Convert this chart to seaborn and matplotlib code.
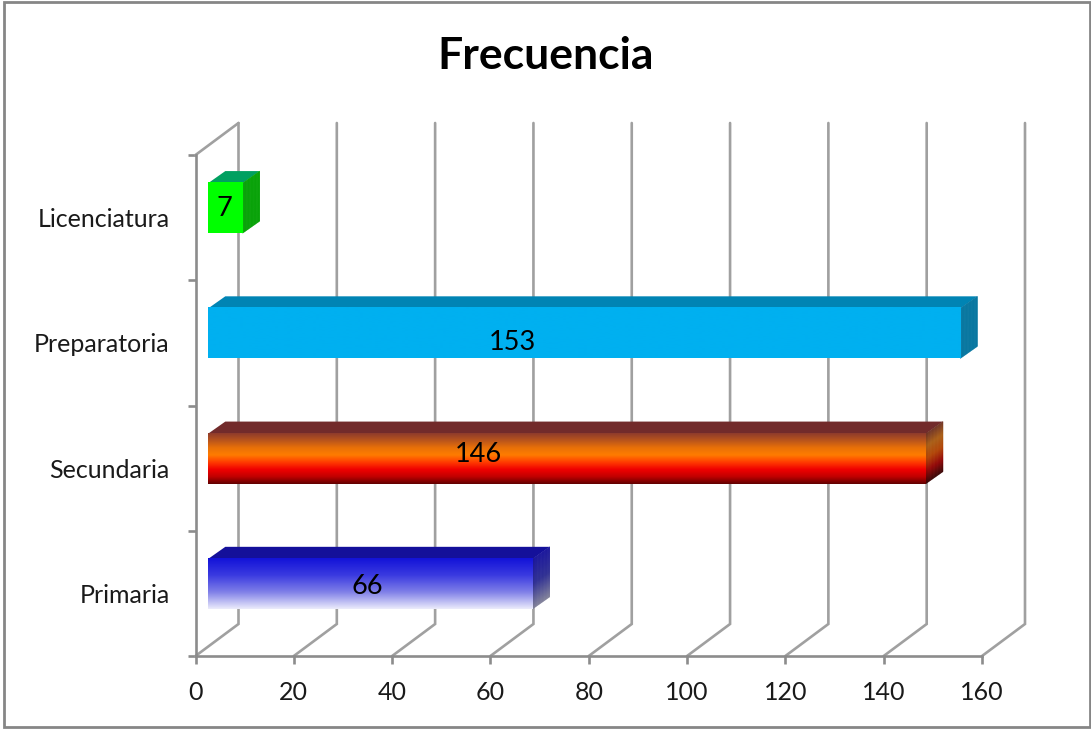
import numpy as np
import pandas as pd
import matplotlib
matplotlib.use("Agg")
import matplotlib.pyplot as plt
from matplotlib.colors import LinearSegmentedColormap
from matplotlib.collections import PolyCollection
from matplotlib.patches import Polygon, Rectangle
import seaborn as sns

# --- data ---
niveles = ["Licenciatura", "Preparatoria", "Secundaria", "Primaria"]
frecuencia = [7, 153, 146, 66]
x_ticks = [0, 20, 40, 60, 80, 100, 120, 140, 160]
titulo = "Frecuencia"

# --- colours ---
front_stops = [
    ["#00ff00", "#00ff00"],
    ["#00b0f0", "#00b0f0"],
    ["#8e3b2c", "#b8541c", "#e87008", "#ff7c00", "#ff3c00", "#f00000", "#c00000", "#600000"],
    ["#1212d8", "#3a3ae0", "#8080e8", "#ececfb"],
]
side_stops = [
    ["#00a000", "#00a000"],
    ["#00739e", "#00739e"],
    ["#6e3020", "#a85a10", "#b04000", "#900000", "#300000"],
    ["#14109a", "#2a2a90", "#808098"],
]
top_colors = ["#00a060", "#0084b4", "#722b2b", "#14109a"]
wall_color = "#a0a0a0"
axis_color = "#8c8c8c"
frame_color = "#868686"

# --- layout (pixels) ---
W, H = 1091, 730
AX_L, AX_R, AX_T, AX_B = 195.5, 982.0, 155.0, 656.0
WALL_DX, WALL_DY = 43.0, 32.0
BAR_DX, BAR_DY = 17.0, 12.0
BAR_SHIFT_X, BAR_SHIFT_Y = 12.8, -9.5
label_px = [(224, 208), (512, 342), (478, 454), (367, 587)]

sns.set_theme(style="white")
plt.rcParams["font.family"] = ["Lato", "DejaVu Sans"]

fig = plt.figure(figsize=(W / 100, H / 100), dpi=100, facecolor="white")
ax = fig.add_axes([AX_L / W, 1 - AX_B / H, (AX_R - AX_L) / W, (AX_B - AX_T) / H])

df = pd.DataFrame({"nivel": niveles, "frecuencia": frecuencia})
solid = {n: s[0] for n, s in zip(niveles, front_stops)}
sns.barplot(data=df, y="nivel", x="frecuencia", hue="nivel", hue_order=niveles,
            order=niveles, palette=solid, width=0.4, legend=False, orient="h",
            ax=ax, zorder=4, linewidth=0)

ax.set_xlim(x_ticks[0], x_ticks[-1])
ax.set_ylim(len(niveles) - 0.5, -0.5)
ux = (x_ticks[-1] - x_ticks[0]) / (AX_R - AX_L)  # data per px
uy = len(niveles) / (AX_B - AX_T)


def grad(stops):
    return LinearSegmentedColormap.from_list("g", stops, N=256)


# --- back walls ---
y_top, y_bot = ax.get_ylim()[1], ax.get_ylim()[0]
wdx, wdy = WALL_DX * ux, WALL_DY * uy
for i, xt in enumerate(x_ticks):
    ax.plot([xt, xt + wdx, xt + wdx], [y_bot, y_bot - wdy, y_top - wdy],
            color=wall_color, lw=1.9, clip_on=False, zorder=1, solid_joinstyle="miter")
ax.plot([0, wdx], [y_top, y_top - wdy], color=wall_color, lw=1.9, clip_on=False, zorder=1)

# --- 3D bars ---
bars = [p for p in ax.patches if p.get_width() > 0]
bdx, bdy = BAR_DX * ux, BAR_DY * uy
for i, p in enumerate(bars):
    p.set_x(p.get_x() + BAR_SHIFT_X * ux)
    p.set_y(p.get_y() + BAR_SHIFT_Y * uy)
    x0, x1 = p.get_x(), p.get_x() + p.get_width()
    y0, y1 = p.get_y(), p.get_y() + p.get_height()  # y0 = upper edge on screen
    # front gradient
    g = np.linspace(0, 1, 256).reshape(-1, 1)
    ax.imshow(g, cmap=grad(front_stops[i]), extent=(x0, x1, y1, y0), origin="upper",
              aspect="auto", zorder=4.5, interpolation="bilinear", clip_on=False)
    # top face
    ax.add_patch(Polygon([(x0, y0), (x0 + bdx, y0 - bdy), (x1 + bdx, y0 - bdy), (x1, y0)],
                         closed=True, fc=top_colors[i], ec="none", zorder=3, clip_on=False))
    # side face strips
    n = 50
    ts = np.linspace(0, 1, n + 1)
    verts = []
    for a, b in zip(ts[:-1], ts[1:]):
        ya, yb = y0 + a * (y1 - y0), y0 + b * (y1 - y0)
        verts.append([(x1, ya), (x1 + bdx, ya - bdy), (x1 + bdx, yb - bdy), (x1, yb)])
    cm = grad(side_stops[i])
    pc = PolyCollection(verts, facecolors=[cm(t) for t in ts[:-1]],
                        edgecolors=[cm(t) for t in ts[:-1]], linewidths=0.3,
                        zorder=3, clip_on=False)
    ax.add_collection(pc)
    # value label
    lx, ly = label_px[i]
    ax.text((lx - AX_L) * ux, (ly - AX_T) * uy - 0.5, str(frecuencia[i]),
            ha="center", va="center", fontsize=19.5, color="black", zorder=6)

ax.set_xlim(x_ticks[0], x_ticks[-1])
ax.set_ylim(len(niveles) - 0.5, -0.5)

# --- axes ---
for s in ["top", "right"]:
    ax.spines[s].set_visible(False)
for s in ["left", "bottom"]:
    ax.spines[s].set_color(axis_color)
    ax.spines[s].set_linewidth(1.9)
    ax.spines[s].set_zorder(2)
ax.set_xticks(x_ticks)
ax.set_xticklabels([str(v) for v in x_ticks])
ax.set_yticks(range(len(niveles)))
ax.set_yticklabels(niveles)
ax.set_yticks(np.arange(-0.5, len(niveles)), minor=True)
ax.set_xlabel("")
ax.set_ylabel("")
ax.tick_params(axis="x", which="major", length=6, width=1.9, color=axis_color,
               bottom=True, labelsize=18, labelcolor="#1a1a1a", pad=12)
ax.tick_params(axis="y", which="major", length=0, left=False, labelsize=18,
               labelcolor="#1a1a1a", pad=18.5)
ax.tick_params(axis="y", which="minor", length=6, width=1.9, color=axis_color, left=True)

# --- title and frame ---
fig.text(546 / W, 1 - 56 / H, titulo, ha="center", va="center", fontsize=32,
         fontweight="bold", color="black")
fig.add_artist(Rectangle((4 / W, 1 - 727 / H), 1086 / W, 725 / H, transform=fig.transFigure,
                         fill=False, ec=frame_color, lw=2.0))

fig.savefig("out.png", dpi=100, facecolor="white")
